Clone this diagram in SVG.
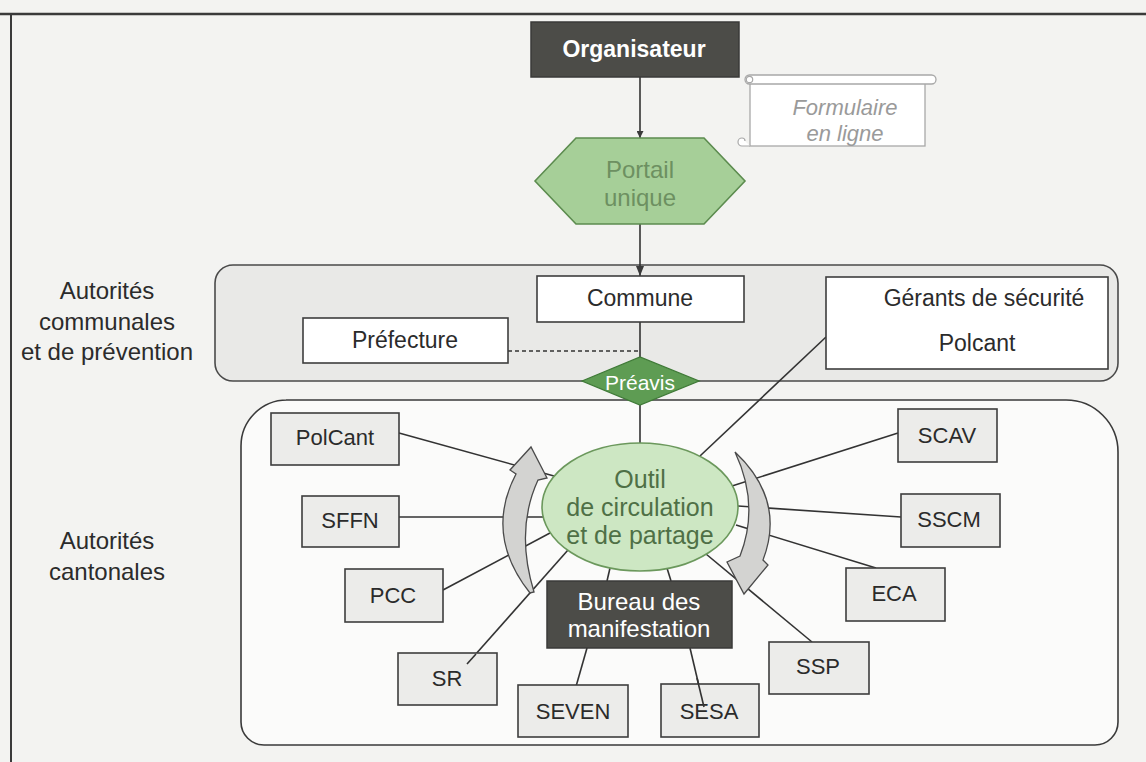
<svg xmlns="http://www.w3.org/2000/svg" width="1146" height="762" viewBox="0 0 1146 762">
<defs>
<marker id="ah" viewBox="0 0 10 10" refX="10" refY="5" markerWidth="7" markerHeight="7" orient="auto" markerUnits="userSpaceOnUse">
<path d="M0,0 L10,5 L0,10 z" fill="#3a3a3a"/>
</marker>
<marker id="ahs" viewBox="0 0 10 10" refX="10" refY="5" markerWidth="10" markerHeight="10" orient="auto" markerUnits="userSpaceOnUse">
<path d="M0,1 L10,5 L0,9 z" fill="#3a3a3a"/>
</marker>
<style>
text{font-family:"Liberation Sans",Arial,sans-serif;text-anchor:middle;dominant-baseline:central;fill:#2b2b2b}
.lbl{font-size:23px}
.sm{font-size:22px}
.box{fill:#ececea;stroke:#3e3e3e;stroke-width:1.6}
.wbox{fill:#ffffff;stroke:#3e3e3e;stroke-width:1.6}
.dark{fill:#4c4c48;stroke:#3a3a38;stroke-width:1.5}
.wt{fill:#ffffff}
.ln{stroke:#333;stroke-width:1.6;fill:none}
.arr{fill:#d3d3d1;stroke:#4a4a4a;stroke-width:1.3}
</style>
</defs>
<rect width="1146" height="762" fill="#f3f3f1"/>
<g id="frame">
<line x1="0" y1="14" x2="1146" y2="14" stroke="#3a3a3a" stroke-width="2.5"/>
<line x1="11" y1="14" x2="11" y2="762" stroke="#3a3a3a" stroke-width="2"/>
</g>
<g id="zone-communale">
<rect x="215" y="265" width="903" height="116" rx="18" fill="#e9e9e7" stroke="#4a4a4a" stroke-width="1.6"/>
</g>
<g id="zone-cantonale">
<path d="M286,400 H1066 A52,52 0 0 1 1118,452 V722 A23,23 0 0 1 1095,745 H264 A23,23 0 0 1 241,722 V446 A46,46 0 0 1 287,400 Z" fill="#fbfbfa" stroke="#3a3a3a" stroke-width="1.6"/>
</g>
<g id="labels">
<text x="107" y="290" style="font-size:24px"><tspan x="107" y="290">Autorités</tspan><tspan x="107" dy="31">communales</tspan><tspan x="107" dy="30">et de prévention</tspan></text>
<text x="107" y="540" style="font-size:24px"><tspan x="107" y="540">Autorités</tspan><tspan x="107" dy="31">cantonales</tspan></text>
</g>
<g id="connectors">
<line class="ln" x1="640" y1="77" x2="640" y2="138" marker-end="url(#ah)"/>
<line class="ln" x1="640" y1="224" x2="640" y2="276" marker-end="url(#ahs)"/>
<line class="ln" x1="640" y1="322" x2="640" y2="358"/>
<line x1="508" y1="351" x2="640" y2="351" stroke="#333" stroke-width="1.4" stroke-dasharray="4,3"/>
<line class="ln" x1="640" y1="405" x2="640" y2="443"/>
<line class="ln" x1="826" y1="337" x2="700" y2="456"/>
<line class="ln" x1="399" y1="433" x2="554" y2="476"/>
<line class="ln" x1="399" y1="517" x2="543" y2="517"/>
<line class="ln" x1="443" y1="590" x2="550" y2="533"/>
<line class="ln" x1="467" y1="664" x2="568" y2="550"/>
<line class="ln" x1="610" y1="568" x2="607" y2="581"/>
<line class="ln" x1="667" y1="568" x2="671" y2="581"/>
<line class="ln" x1="587" y1="648" x2="575" y2="690"/>
<line class="ln" x1="690" y1="648" x2="704" y2="707"/>
<line class="ln" x1="812" y1="642" x2="706" y2="554"/>
<line class="ln" x1="876" y1="568" x2="736" y2="525"/>
<line class="ln" x1="901" y1="517" x2="738" y2="506"/>
<line class="ln" x1="898" y1="433" x2="732" y2="486"/>
</g>
<g id="organisateur">
<rect class="dark" x="531" y="22" width="208" height="55"/>
<text class="wt" x="634" y="49" style="font-size:23px;font-weight:bold">Organisateur</text>
</g>
<g id="formulaire">
<rect x="750" y="82" width="175" height="64" fill="#ffffff" stroke="#a8a8a8" stroke-width="1.3"/>
<rect x="745" y="75" width="191" height="9" rx="4.5" fill="#ffffff" stroke="#a8a8a8" stroke-width="1.3"/>
<circle cx="749.5" cy="79.5" r="3.2" fill="#ffffff" stroke="#a8a8a8" stroke-width="1.2"/>
<path d="M750,146 H742 A4,4 0 0 1 742,138 A3,3 0 0 1 745,141" fill="#ffffff" stroke="#a8a8a8" stroke-width="1.2"/>
<text x="845" y="107" style="font-size:22px;font-style:italic;fill:#9a9a9a"><tspan x="845" y="107">Formulaire</tspan><tspan x="845" dy="26">en ligne</tspan></text>
</g>
<g id="portail">
<polygon points="535,181 576,138 704,138 745,181 704,224 576,224" fill="#a6cf98" stroke="#5c8c4f" stroke-width="1.6"/>
<text x="640" y="169" style="font-size:24px;fill:#6d9061"><tspan x="640" y="169">Portail</tspan><tspan x="640" dy="28">unique</tspan></text>
</g>
<g id="prefecture">
<rect class="wbox" x="303" y="318" width="205" height="45"/>
<text class="lbl" x="405" y="340">Préfecture</text>
</g>
<g id="commune">
<rect class="wbox" x="537" y="276" width="207" height="46"/>
<text class="lbl" x="640" y="298">Commune</text>
</g>
<g id="gerants">
<rect class="wbox" x="826" y="277" width="282" height="92"/>
<text class="lbl" x="984" y="298">Gérants de sécurité</text>
<text class="lbl" x="977" y="343">Polcant</text>
</g>
<g id="preavis">
<polygon points="582,381 640,357 699,381 640,405" fill="#5e9c53" stroke="#3f7a37" stroke-width="1.3"/>
<text class="wt" x="640" y="382" style="font-size:21px">Préavis</text>
</g>
<g id="outil">
<ellipse cx="640" cy="507" rx="98" ry="64" fill="#cde7c3" stroke="#6b985c" stroke-width="1.6"/>
<text x="640" y="479" style="font-size:25px;fill:#4f7046"><tspan x="640" y="479">Outil</tspan><tspan x="640" dy="28">de circulation</tspan><tspan x="640" dy="28">et de partage</tspan></text>
</g>
<g id="cycle-left">
<path class="arr" d="M530,593 Q484,535 516,474 L510,470 L531,447 L547,478 L538,480 Q515,530 534,592 Z"/>
</g>
<g id="cycle-right">
<path class="arr" d="M735,452 Q786,500 763,560 L768,565 L744,594 L727,562 L740,556 Q760,505 735,452 Z"/>
</g>
<g id="bureau">
<rect class="dark" x="547" y="581" width="185" height="67"/>
<text class="wt" x="639" y="601" style="font-size:24px"><tspan x="639" y="601">Bureau des</tspan><tspan x="639" dy="27">manifestation</tspan></text>
</g>
<g id="polcant">
<rect class="box" x="271" y="413" width="128" height="52"/>
<text class="sm" x="335" y="437">PolCant</text>
</g>
<g id="sffn">
<rect class="box" x="302" y="496" width="97" height="51"/>
<text class="sm" x="350" y="520">SFFN</text>
</g>
<g id="pcc">
<rect class="box" x="345" y="569" width="98" height="53"/>
<text class="sm" x="393" y="595">PCC</text>
</g>
<g id="sr">
<rect class="box" x="398" y="653" width="99" height="52"/>
<text class="sm" x="447" y="678">SR</text>
</g>
<g id="seven">
<rect class="box" x="518" y="685" width="110" height="52"/>
<text class="sm" x="573" y="711">SEVEN</text>
</g>
<g id="sesa">
<rect class="box" x="661" y="684" width="98" height="53"/>
<text class="sm" x="709" y="711">SESA</text>
</g>
<g id="ssp">
<rect class="box" x="769" y="642" width="100" height="52"/>
<text class="sm" x="818" y="666">SSP</text>
</g>
<g id="eca">
<rect class="box" x="846" y="568" width="99" height="53"/>
<text class="sm" x="894" y="593">ECA</text>
</g>
<g id="sscm">
<rect class="box" x="901" y="494" width="99" height="53"/>
<text class="sm" x="949" y="519">SSCM</text>
</g>
<g id="scav">
<rect class="box" x="898" y="409" width="99" height="53"/>
<text class="sm" x="947" y="435">SCAV</text>
</g>
<g id="link-overlays">
<line class="ln" x1="697" y1="678" x2="704" y2="707"/>
<line class="ln" x1="467" y1="664" x2="476" y2="654"/>
</g>
</svg>
